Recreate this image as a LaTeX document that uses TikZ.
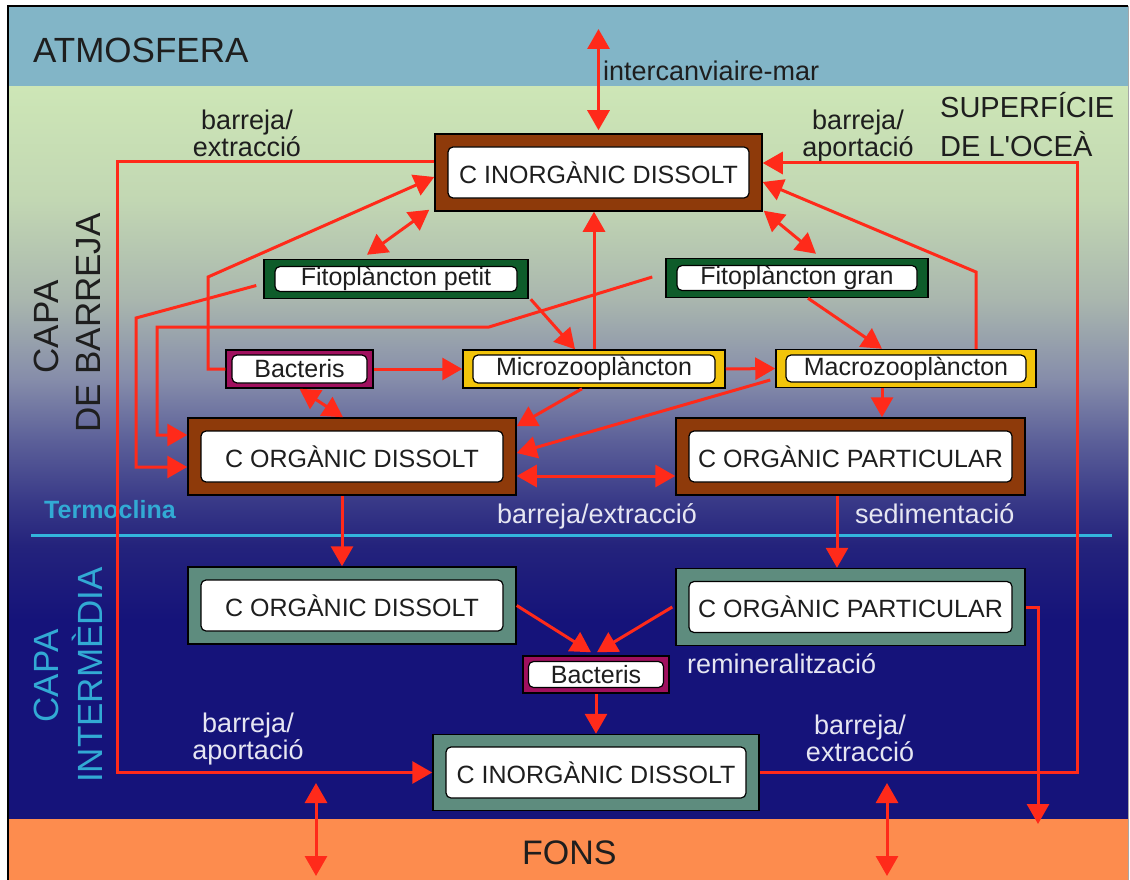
\documentclass[tikz,border=0pt]{standalone}
\usepackage{fontspec}
\setmainfont{Liberation Sans}[Ligatures=TeXOff]
\usetikzlibrary{arrows.meta}
\definecolor{atm}{HTML}{82B5C7}
\definecolor{cA}{HTML}{CDE6B6}
\definecolor{cB}{HTML}{C2D7B3}
\definecolor{cC}{HTML}{A9B6AE}
\definecolor{cD}{HTML}{858CAA}
\definecolor{cE}{HTML}{5C6099}
\definecolor{cF}{HTML}{393A88}
\definecolor{cG}{HTML}{24237C}
\definecolor{navy}{HTML}{15137A}
\definecolor{fons}{HTML}{FD8C4E}
\definecolor{thermo}{HTML}{33B5DC}
\definecolor{arrred}{HTML}{FF2A1A}
\definecolor{brownb}{HTML}{8E3A0A}
\definecolor{greenb}{HTML}{0E5C2A}
\definecolor{magb}{HTML}{A0105E}
\definecolor{yelb}{HTML}{F2C40A}
\definecolor{grayb}{HTML}{5E8C7E}
\definecolor{darktxt}{HTML}{1E1E1E}
\definecolor{lighttxt}{HTML}{E6E6F2}
\definecolor{cyantxt}{HTML}{32AAD4}
\newcommand{\boxfont}{\fontsize{25}{28}\selectfont}
\newcommand{\lblfont}{\fontsize{27}{22.5}\selectfont}
\newcommand{\bigfont}{\fontsize{35}{40}\selectfont}
\begin{document}
\begin{tikzpicture}[x=1pt,y=-1pt,
  outerbox/.style={draw=black, line width=1.5pt, inner sep=0pt},
  brownbox/.style={outerbox, fill=brownb},
  greenbox/.style={outerbox, fill=greenb},
  magbox/.style={outerbox, fill=magb},
  yelbox/.style={outerbox, fill=yelb},
  graybox/.style={outerbox, fill=grayb},
  innerbox/.style={draw=black, line width=1.2pt, fill=white, rounded corners=5pt, inner sep=0pt, font=\boxfont, text=darktxt},
  conn/.style={draw=arrred, line width=3pt},
  arr/.style={conn, -{Triangle[length=20pt,width=22pt]}},
  darr/.style={conn, {Triangle[length=20pt,width=22pt]}-{Triangle[length=20pt,width=22pt]}},
  lblD/.style={font=\lblfont, text=darktxt, inner sep=0pt, align=center},
  lblL/.style={font=\lblfont, text=lighttxt, inner sep=0pt, align=center}
]
\useasboundingbox (0,0) rectangle (1130,880);
\fill[white] (0,0) rectangle (1130,880);
% layers
\fill[atm] (8,6) rectangle (1128,87);
\shade[top color=cA, bottom color=cB] (8,87) rectangle (1128,200.5);
\shade[top color=cB, bottom color=cC] (8,200) rectangle (1128,300.5);
\shade[top color=cC, bottom color=cD] (8,300) rectangle (1128,380.5);
\shade[top color=cD, bottom color=cE] (8,380) rectangle (1128,440.5);
\shade[top color=cE, bottom color=cF] (8,440) rectangle (1128,500.5);
\shade[top color=cF, bottom color=cG] (8,500) rectangle (1128,545.5);
\shade[top color=cG, bottom color=navy] (8,545) rectangle (1128,620.5);
\fill[navy] (8,620) rectangle (1128,819);
\fill[fons] (8,819) rectangle (1128,880);
\draw[thermo, line width=3pt] (31,535) -- (1112,535);
\draw[black, line width=2pt] (8,880) -- (8,6) -- (1128,6);
\draw[gray!70, line width=1pt] (1128,6) -- (1128,880);

% layer labels
\node[font=\bigfont, text=darktxt, anchor=base west, inner sep=0pt] (atmos) at (33,63) {ATMOSFERA};
\node[font=\fontsize{29}{34}\selectfont, text=darktxt, anchor=base west, inner sep=0pt] (sup1) at (940,118) {SUPERFÍCIE};
\node[font=\fontsize{29}{34}\selectfont, text=darktxt, anchor=base west, inner sep=0pt] (sup2) at (940,157) {DE L'OCEÀ};
\node[font=\bigfont, text=darktxt, anchor=base, rotate=90, inner sep=0pt] (cb1) at (58,327) {CAPA};
\node[font=\bigfont, text=darktxt, anchor=base, rotate=90, inner sep=0pt] (cb2) at (100,323) {DE BARREJA};
\node[font=\bigfont, text=cyantxt, anchor=base, rotate=90, inner sep=0pt] (ci1) at (58,676) {CAPA};
\node[font=\bigfont, text=cyantxt, anchor=base, rotate=90, inner sep=0pt] (ci2) at (102,675) {INTERMÈDIA};
\node[font=\fontsize{25}{28}\selectfont\bfseries, text=cyantxt, anchor=base west, inner sep=0pt] (termo) at (44,518) {Termoclina};
\node[font=\fontsize{34}{40}\selectfont, text=darktxt, anchor=base west, inner sep=0pt] (fonsl) at (522,864) {FONS};

% boxes
\node[brownbox, minimum width=327pt, minimum height=77pt] (cidT) at (598.5,172.5) {};
\node[innerbox, minimum width=301pt, minimum height=51pt] (cidTt) at (598.5,172.5) {C INORGÀNIC DISSOLT};
\node[greenbox, minimum width=264pt, minimum height=39pt] (fitP) at (396,279) {};
\node[innerbox, minimum width=242pt, minimum height=25pt] (fitPt) at (396,279) {Fitoplàncton petit};
\node[greenbox, minimum width=262pt, minimum height=39pt] (fitG) at (797,278) {};
\node[innerbox, minimum width=240pt, minimum height=25pt] (fitGt) at (797,278) {Fitoplàncton gran};
\node[magbox, minimum width=147pt, minimum height=38pt] (bacT) at (299.5,369) {};
\node[innerbox, minimum width=135pt, minimum height=28pt] (bacTt) at (299.5,369) {Bacteris};
\node[yelbox, minimum width=262pt, minimum height=38pt] (micro) at (594,369) {};
\node[innerbox, minimum width=242pt, minimum height=28pt] (microt) at (594,369) {Microzooplàncton};
\node[yelbox, minimum width=260pt, minimum height=38pt] (macro) at (906,368.5) {};
\node[innerbox, minimum width=240pt, minimum height=27pt] (macrot) at (906,368.5) {Macrozooplàncton};
\node[brownbox, minimum width=328pt, minimum height=77pt] (codT) at (352,456.5) {};
\node[innerbox, minimum width=302pt, minimum height=51pt] (codTt) at (352,456.5) {C ORGÀNIC DISSOLT};
\node[brownbox, minimum width=349pt, minimum height=77pt] (copT) at (850.5,456.5) {};
\node[innerbox, minimum width=323pt, minimum height=51pt] (copTt) at (850.5,456.5) {C ORGÀNIC PARTICULAR};
\node[graybox, minimum width=328pt, minimum height=77pt] (codB) at (352,605.5) {};
\node[innerbox, minimum width=302pt, minimum height=51pt] (codBt) at (352,605.5) {C ORGÀNIC DISSOLT};
\node[graybox, minimum width=349pt, minimum height=77pt] (copB) at (850.5,607) {};
\node[innerbox, minimum width=323pt, minimum height=51pt] (copBt) at (850.5,607) {C ORGÀNIC PARTICULAR};
\node[magbox, minimum width=146pt, minimum height=37pt] (bacB) at (596,674.5) {};
\node[innerbox, minimum width=135pt, minimum height=26pt] (bacBt) at (596,674.5) {Bacteris};
\node[graybox, minimum width=326pt, minimum height=76pt] (cidB) at (596,772.5) {};
\node[innerbox, minimum width=300pt, minimum height=51pt] (cidBt) at (596,772.5) {C INORGÀNIC DISSOLT};

% flow labels
\node[lblD, anchor=base west, align=left] (iam) at (603,81) {intercanviaire-mar};
\node[lblD, anchor=north] (tl) at (247,110) {barreja/\\extracció};
\node[lblD, anchor=north] (tr) at (858,110) {barreja/\\aportació};
\node[lblL, anchor=base west, align=left] (mbe) at (497,523) {barreja/extracció};
\node[lblL, anchor=base west, align=left] (sedl) at (855,523) {sedimentació};
\node[lblL, anchor=base west, align=left] (reml) at (687,673) {remineralització};
\node[lblL, anchor=north] (ll) at (248,713) {barreja/\\aportació};
\node[lblL, anchor=north] (lr) at (860,715) {barreja/\\extracció};

% free ends
\coordinate (atmEnd) at (598.5,29);
\coordinate (sedEnd) at (1038,824);
\coordinate (f1a) at (316,783);
\coordinate (f1b) at (316,876);
\coordinate (f2a) at (887,783);
\coordinate (f2b) at (887,876);

% connectors
\draw[darr] (atmEnd) -- ([yshift=3pt]cidT.north);
\draw[arr] ([yshift=10.5pt]cidT.west) -| (117,772.5) -- (cidB.west);
\draw[arr] (cidB.east) -| (1077,163) -- ([yshift=9.5pt]cidT.east);
\draw[darr] ([xshift=-5pt,yshift=2pt]cidT.south west) -- ([xshift=-29pt,yshift=4pt]fitP.north);
\draw[darr] ([xshift=1pt,yshift=1pt]cidT.south east) -- ([xshift=19pt,yshift=4pt]fitG.north);
\draw[arr] (bacT.west) -- (208,369) -- (208,277) -- ([yshift=-4.5pt]cidT.west);
\draw[arr] ([xshift=-7pt,yshift=-6.5pt]fitP.west) -- (136,318) -- (136,467) -- ([yshift=-10.5pt]codT.west);
\draw[arr] ([xshift=-13pt,yshift=1pt]fitG.west) -- (489,327) -- (157,327) -- (157,435) -- ([yshift=21.5pt]codT.west);
\draw[arr] ([xshift=2pt]fitP.south east) -- ([xshift=-19pt]micro.north);
\draw[arr] (micro.north) -- (micro.north |- cidT.south);
\draw[arr] ([xshift=11pt]fitG.south) -- ([xshift=-24pt]macro.north);
\draw[arr] ([xshift=70pt]macro.north) -- (976,272) -- ([yshift=-9.5pt]cidT.east);
\draw[arr] (bacT.east) -- (micro.west);
\draw[arr] (micro.east) -- (macro.west);
\draw[darr] (bacT.south) -- ([xshift=-9pt]codT.north);
\draw[arr] ([xshift=-12pt]micro.south) -- ([yshift=-9pt]codT.north east);
\draw[arr] ([xshift=-5pt,yshift=-11.5pt]macro.west) -- ([yshift=3.5pt]codT.east);
\draw[darr] ([yshift=-19.5pt]codT.east) -- ([yshift=-19.5pt]copT.west);
\draw[arr] ([xshift=-24pt]macro.south) -- ([xshift=-24pt]macro.south |- copT.north);
\draw[arr] ([xshift=-10pt]codT.south) -- ([xshift=-10pt]codB.north);
\draw[arr] ([xshift=-13.5pt]copT.south) -- ([xshift=-13.5pt]copB.north);
\draw[arr] (codB.east) -- ([xshift=-5pt,yshift=3pt]bacB.north);
\draw[arr] ([xshift=-3pt]copB.west) -- ([xshift=1pt,yshift=3pt]bacB.north);
\draw[arr] (bacB.south) -- (cidB.north);
\draw[arr] (copB.east) -| (sedEnd);
\draw[darr] (f1a) -- (f1b);
\draw[darr] (f2a) -- (f2b);
\end{tikzpicture}
\end{document}
